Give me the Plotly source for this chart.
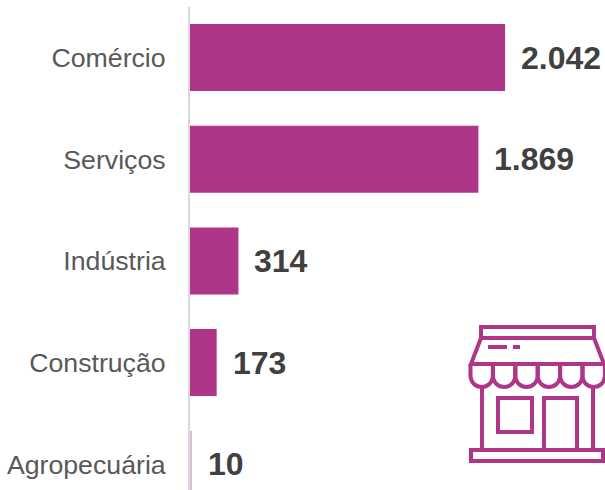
import plotly.graph_objects as go

categories = ["Comércio", "Serviços", "Indústria", "Construção", "Agropecuária"]
values = [2042, 1869, 314, 173, 10]
value_labels = ["2.042", "1.869", "314", "173", "10"]

W, H = 605, 490
L, T = 190, 7
COLOR = "#AF3589"


def px(x):
    return (x - L) / (W - L)


def py(y):
    return 1 - (y - T) / (H - T)


def path(cmds):
    out = []
    for c in cmds:
        if c == "Z":
            out.append("Z")
        else:
            op, pts = c[0], c[1:]
            out.append(op + " ".join(f"{px(x):.5f},{py(y):.5f}" for x, y in pts))
    return " ".join(out)


icon = [
    [("M", (481, 327)), ("L", (594, 327)), ("L", (594, 338)), ("L", (481, 338)), "Z"],
    [("M", (471, 364)), ("L", (481, 338)), ("L", (594, 338)), ("L", (604, 364)), "Z"],
    [("M", (488, 347)), ("L", (507, 347))],
    [("M", (513, 347)), ("L", (520, 347))],
    [("M", (482, 387)), ("L", (482, 450))],
    [("M", (593, 387)), ("L", (593, 450))],
    [("M", (498, 398)), ("L", (532, 398)), ("L", (532, 432)), ("L", (498, 432)), "Z"],
    [("M", (544, 450)), ("L", (544, 398)), ("L", (577, 398)), ("L", (577, 450))],
    [("M", (471, 450)), ("L", (603, 450)), ("L", (603, 461)), ("L", (471, 461)), "Z"],
]
for i in range(6):
    x0 = 470.5 + i * 22.4
    x1 = x0 + 22.4
    icon.append([("M", (x0, 364)), ("L", (x0, 375)),
                 ("C", (x0, 391), (x1, 391), (x1, 375)), ("L", (x1, 364))])

shapes = [dict(type="path", xref="paper", yref="paper", path=path(p),
               line=dict(color=COLOR, width=4), layer="above") for p in icon]

fig = go.Figure(go.Bar(
    x=values, y=categories, orientation="h",
    marker=dict(color=COLOR, line=dict(width=0), opacity=[1, 1, 1, 1, 0.35]),
    hoverinfo="skip",
))

annotations = [dict(x=v, y=c, text=f"<b>{t}</b>", xref="x", yref="y", xanchor="left",
                    yanchor="middle", showarrow=False, xshift=14, yshift=0,
                    font=dict(family="Liberation Sans", size=32, color="#404040"))
               for v, c, t in zip(values, categories, value_labels)]

fig.update_layout(
    width=W, height=H, autosize=False,
    margin=dict(l=L, r=0, t=T, b=0, pad=0),
    paper_bgcolor="white", plot_bgcolor="white",
    showlegend=False, bargap=0.341,
    shapes=shapes, annotations=annotations,
    xaxis=dict(range=[0, (W - L) / 0.1543], visible=False, fixedrange=True),
    yaxis=dict(
        type="category", categoryorder="array", categoryarray=categories,
        range=[4.253, -0.497], fixedrange=True,
        showgrid=False, zeroline=False,
        showline=True, linecolor="#D9D9D9", linewidth=2,
        ticks="outside", ticklen=17, tickcolor="rgba(0,0,0,0)",
        tickfont=dict(family="Liberation Sans", size=26.7, color="#595959"),
    ),
)
fig.write_html("out.html", config=dict(displayModeBar=False),
               post_script="document.body.style.margin='0';")
